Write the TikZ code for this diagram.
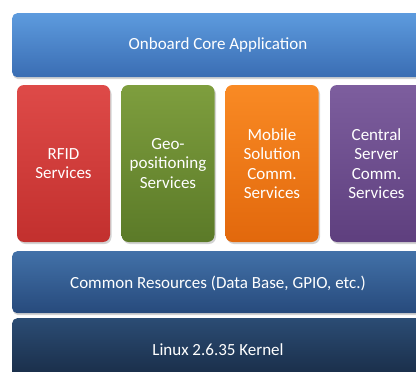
\documentclass[tikz,border=0pt]{standalone}
\usepackage{fontspec}
\setmainfont{Carlito}
\usetikzlibrary{shadows}
\begin{document}
\begin{tikzpicture}[x=1pt,y=-1pt,
  txt/.style={text=white, font=\fontsize{17}{19.5}\selectfont},
  layer/.style={rounded corners=5pt, inner sep=0pt,
    drop shadow={opacity=0.35, shadow xshift=1pt, shadow yshift=-2pt}},
  svc/.style={rounded corners=7pt, text=white, align=center,
    font=\fontsize{17}{19.5}\selectfont, inner sep=0pt,
    minimum width=93pt, minimum height=157pt,
    drop shadow={opacity=0.35, shadow xshift=1.5pt, shadow yshift=-2pt}}]
\definecolor{appT}{HTML}{5D9BDE}\definecolor{appB}{HTML}{3A6DB3}
\definecolor{redT}{HTML}{DE4A48}\definecolor{redB}{HTML}{C2302E}
\definecolor{grnT}{HTML}{7E9E3E}\definecolor{grnB}{HTML}{5B7A28}
\definecolor{orgT}{HTML}{F98A24}\definecolor{orgB}{HTML}{E2680C}
\definecolor{purT}{HTML}{7D5E9E}\definecolor{purB}{HTML}{5E3F7E}
\definecolor{resT}{HTML}{4271A8}\definecolor{resB}{HTML}{274A7C}
\definecolor{linT}{HTML}{2B4C74}\definecolor{linB}{HTML}{16273F}
\useasboundingbox (0,0) rectangle (416,372);
\clip (0,0) rectangle (416,372);
\node[layer, top color=appT, bottom color=appB, minimum width=420pt, minimum height=64pt, anchor=north west] (app) at (12,13) {};
\node[txt] (apptext) at (218,45) {Onboard Core Application};
\node[svc, top color=redT, bottom color=redB] (rfid) at (63.5,163.5) {RFID\\Services};
\node[svc, top color=grnT, bottom color=grnB] (geo) at (168,163.5) {Geo-\\positioning\\Services};
\node[svc, top color=orgT, bottom color=orgB] (mob) at (272,163.5) {Mobile\\Solution\\Comm.\\Services};
\node[svc, top color=purT, bottom color=purB] (cen) at (376.5,163.5) {Central\\Server\\Comm.\\Services};
\node[layer, top color=resT, bottom color=resB, minimum width=420pt, minimum height=62pt, anchor=north west] (res) at (12,251) {};
\node[txt] (restext) at (218,283) {Common Resources (Data Base, GPIO, etc.)};
\node[layer, top color=linT, bottom color=linB, minimum width=420pt, minimum height=70pt, anchor=north west] (lin) at (12,318) {};
\node[txt] (lintext) at (218,350) {Linux 2.6.35 Kernel};
\end{tikzpicture}
\end{document}
